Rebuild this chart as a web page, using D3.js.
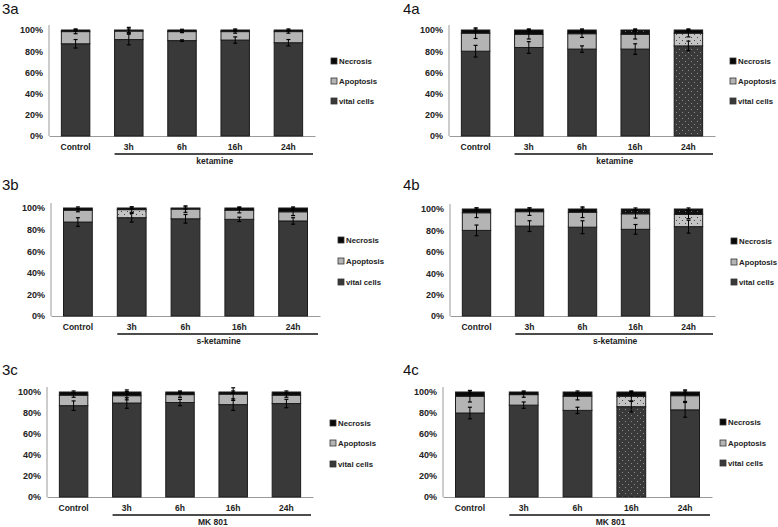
<!DOCTYPE html>
<html>
<head>
<meta charset="utf-8">
<script src="https://cdn.jsdelivr.net/npm/d3@7/dist/d3.min.js"></script>
<style>
  html, body { margin: 0; padding: 0; background: #fff; }
  svg { display: block; }
  text { font-family: "Liberation Sans", Arial, sans-serif; fill: #222; }
</style>
</head>
<body>
<div id="chart"></div>
<script>
// ---------- DATA ----------
const categories = ["Control", "3h", "6h", "16h", "24h"];
const panelIds = ["3a", "4a", "3b", "4b", "3c", "4c"];
const treatments = ["ketamine", "ketamine", "s-ketamine", "s-ketamine", "MK 801", "MK 801"];
const seriesNames = ["Necrosis", "Apoptosis", "vital cells"];
const yTicks = [0, 20, 40, 60, 80, 100];

// values in % (vital cells, apoptosis, necrosis) and error bars
const vital3a = [87, 91, 90, 90.5, 88];
const apoptosis3a = [11.5, 8, 8.5, 8, 10.5];
const necrosis3a = [1.5, 1, 1.5, 1.5, 1.5];
const vitalErr3a = [4, 5, 0.7, 3, 3];
const apoptosisErr3a = [2, 2, 1, 1.5, 1.5];
const necrosisErr3a = [1, 2.5, 0.7, 1, 1];

const vital4a = [80, 83.5, 82, 82, 85];
const apoptosis4a = [17, 12.5, 14.5, 14, 12];
const necrosis4a = [3, 4, 3.5, 4, 3];
const vitalErr4a = [5.5, 5.5, 3, 5, 4.5];
const apoptosisErr4a = [5, 4.5, 3.5, 4.5, 3.5];
const necrosisErr4a = [1, 1, 1, 1, 1];

const vital3b = [87, 91, 90, 89.5, 88];
const apoptosis3b = [11, 7.5, 9, 8.5, 8.5];
const necrosis3b = [2, 1.5, 1, 2, 3.5];
const vitalErr3b = [4, 4, 4, 2, 3];
const apoptosisErr3b = [1.5, 2.5, 3, 2.5, 3.5];
const necrosisErr3b = [1, 1, 1, 1, 1];

const vital4b = [80, 84, 83, 81, 83.5];
const apoptosis4b = [16.5, 13.5, 14, 14.5, 11.5];
const necrosis4b = [3.5, 2.5, 3, 4.5, 5];
const vitalErr4b = [5, 5, 6, 4.5, 6];
const apoptosisErr4b = [4.5, 3.5, 5, 4, 4];
const necrosisErr4b = [1, 1, 1, 1, 1];

const vital3c = [87, 89.5, 90, 88, 89];
const apoptosis3c = [10, 7, 7.5, 10, 8];
const necrosis3c = [3, 3.5, 2.5, 2, 3];
const vitalErr3c = [4.5, 5, 3, 5.5, 4];
const apoptosisErr3c = [2, 4, 2.5, 6, 2];
const necrosisErr3c = [1, 2, 1, 1, 1];

const vital4c = [80, 87.5, 82.5, 86, 83];
const apoptosis4c = [16, 10, 13.5, 10, 13.5];
const necrosis4c = [4, 2.5, 4, 4, 3.5];
const vitalErr4c = [5.5, 3, 3, 5, 7];
const apoptosisErr4c = [5.5, 2.5, 3.5, 4.5, 5.5];
const necrosisErr4c = [1, 1, 1, 1, 1];

// dotted (pattern) segments: 1 = dotted
const dottedVital = { "3a": [0,0,0,0,0], "4a": [0,0,0,0,1], "3b": [0,0,0,0,0], "4b": [0,0,0,0,0], "3c": [0,0,0,0,0], "4c": [0,0,0,1,0] };
const dottedApoptosis = { "3a": [0,0,0,0,0], "4a": [0,0,0,0,1], "3b": [0,1,0,0,0], "4b": [0,0,0,0,1], "3c": [0,0,0,0,0], "4c": [0,0,0,1,0] };
const dottedNecrosis = { "3a": [0,0,0,0,0], "4a": [0,0,0,1,0], "3b": [0,0,0,0,0], "4b": [0,0,0,1,1], "3c": [0,0,0,0,0], "4c": [0,0,0,0,0] };

const panelData = {
  "3a": { vital: vital3a, apo: apoptosis3a, nec: necrosis3a, vErr: vitalErr3a, aErr: apoptosisErr3a, nErr: necrosisErr3a },
  "4a": { vital: vital4a, apo: apoptosis4a, nec: necrosis4a, vErr: vitalErr4a, aErr: apoptosisErr4a, nErr: necrosisErr4a },
  "3b": { vital: vital3b, apo: apoptosis3b, nec: necrosis3b, vErr: vitalErr3b, aErr: apoptosisErr3b, nErr: necrosisErr3b },
  "4b": { vital: vital4b, apo: apoptosis4b, nec: necrosis4b, vErr: vitalErr4b, aErr: apoptosisErr4b, nErr: necrosisErr4b },
  "3c": { vital: vital3c, apo: apoptosis3c, nec: necrosis3c, vErr: vitalErr3c, aErr: apoptosisErr3c, nErr: necrosisErr3c },
  "4c": { vital: vital4c, apo: apoptosis4c, nec: necrosis4c, vErr: vitalErr4c, aErr: apoptosisErr4c, nErr: necrosisErr4c }
};

// ---------- LAYOUT ----------
const layout = {
  "3a": { titleX: 2,   titleY: 14,  x0: 49,  x1: 315, yTop: 30,  yBot: 136, legX: 331, legY: [61, 81, 101] },
  "4a": { titleX: 403, titleY: 14,  x0: 449, x1: 715, yTop: 30,  yBot: 136, legX: 730, legY: [61, 81, 101] },
  "3b": { titleX: 2,   titleY: 190, x0: 51,  x1: 320, yTop: 208, yBot: 316, legX: 338, legY: [240, 261, 282] },
  "4b": { titleX: 403, titleY: 190, x0: 450, x1: 715, yTop: 209, yBot: 316, legX: 731, legY: [241, 262, 282] },
  "3c": { titleX: 2,   titleY: 375, x0: 47,  x1: 313, yTop: 392, yBot: 497, legX: 330, legY: [423, 443, 464] },
  "4c": { titleX: 403, titleY: 375, x0: 443, x1: 712, yTop: 392, yBot: 497, legX: 720, legY: [422, 443, 463] }
};

const colVital = "#393939", colApo = "#b4b4b4", colNec = "#080808", colEdge = "#1c1c1c";

const W = 778, H = 527;
const svg = d3.select("#chart").append("svg").attr("width", W).attr("height", H);

// patterns
const defs = svg.append("defs");
function dotPattern(id, bg, dot) {
  const p = defs.append("pattern").attr("id", id).attr("patternUnits", "userSpaceOnUse")
    .attr("width", 6).attr("height", 6);
  p.append("rect").attr("width", 6).attr("height", 6).attr("fill", bg);
  p.append("rect").attr("x", 1).attr("y", 1).attr("width", 1).attr("height", 1).attr("fill", dot);
  p.append("rect").attr("x", 4).attr("y", 4).attr("width", 1).attr("height", 1).attr("fill", dot);
}
dotPattern("dotVital", colVital, "#8c8c8c");
dotPattern("dotApo", "#c4c4c4", "#4a4a4a");
dotPattern("dotNec", "#101010", "#6a6a6a");

panelIds.forEach((id, pi) => {
  const L = layout[id];
  const D = panelData[id];
  const g = svg.append("g");

  g.append("text").attr("x", L.titleX).attr("y", L.titleY)
    .style("font-size", "15px").style("fill", "#111").text(id);

  const x = d3.scaleBand().domain(categories).range([L.x0, L.x1])
    .paddingInner(0.465).paddingOuter(0.2325);
  const y = d3.scaleLinear().domain([0, 100]).range([L.yBot, L.yTop]);

  // y axis
  const yAxis = d3.axisLeft(y).tickValues(yTicks).tickSize(0).tickPadding(6)
    .tickFormat(d => d + "%");
  const ya = g.append("g").attr("transform", `translate(${L.x0},0)`).call(yAxis);
  ya.select(".domain").remove();
  ya.selectAll("text").style("font-size", "9px").style("font-weight", "bold")
    .style("font-family", "'Liberation Sans', Arial, sans-serif").attr("fill", "#222");
  g.append("line").attr("x1", L.x0).attr("x2", L.x0).attr("y1", L.yTop - 5).attr("y2", L.yBot)
    .attr("stroke", "#9a9a9a").attr("stroke-width", 1);

  // x axis
  const xAxis = d3.axisBottom(x).tickSize(0).tickPadding(8);
  const xa = g.append("g").attr("transform", `translate(0,${L.yBot})`).call(xAxis);
  xa.select(".domain").attr("stroke", "#9a9a9a");
  xa.selectAll("text").style("font-size", "8.5px").style("font-weight", "bold")
    .style("font-family", "'Liberation Sans', Arial, sans-serif").attr("fill", "#222");

  // treatment underline + label
  const ux0 = x(categories[1]);
  const uy = L.yBot + 18;
  g.append("line").attr("x1", ux0).attr("x2", L.x1 - 2).attr("y1", uy).attr("y2", uy)
    .attr("stroke", "#111").attr("stroke-width", 1.5);
  g.append("text").attr("x", (ux0 + L.x1) / 2).attr("y", uy + 10).attr("text-anchor", "middle")
    .style("font-size", "8.5px").style("font-weight", "bold").text(treatments[pi]);

  // stacked bars
  categories.forEach((c, i) => {
    const bx = x(c), bw = x.bandwidth();
    const v = D.vital[i], a = D.apo[i], n = D.nec[i];
    const segs = [
      { lo: 0, hi: v, fill: dottedVital[id][i] ? "url(#dotVital)" : colVital },
      { lo: v, hi: v + a, fill: dottedApoptosis[id][i] ? "url(#dotApo)" : colApo },
      { lo: v + a, hi: v + a + n, fill: dottedNecrosis[id][i] ? "url(#dotNec)" : colNec }
    ];
    segs.forEach(s => {
      g.append("rect").attr("x", bx).attr("width", bw)
        .attr("y", y(s.hi)).attr("height", y(s.lo) - y(s.hi))
        .attr("fill", s.fill).attr("stroke", colEdge).attr("stroke-width", 1);
    });
    // error bars
    const errs = [
      { c: v, e: D.vErr[i] },
      { c: v + a, e: D.aErr[i] },
      { c: v + a + n, e: D.nErr[i] }
    ];
    const cx = bx + bw / 2;
    errs.forEach(er => {
      const yHi = y(er.c + er.e), yLo = y(er.c - er.e);
      g.append("line").attr("x1", cx).attr("x2", cx).attr("y1", yHi).attr("y2", yLo)
        .attr("stroke", "#000").attr("stroke-width", 1);
      [yHi, yLo].forEach(yy => g.append("line").attr("x1", cx - 2).attr("x2", cx + 2)
        .attr("y1", yy).attr("y2", yy).attr("stroke", "#000").attr("stroke-width", 1.2));
    });
  });

  // legend
  const legFills = [colNec, colApo, colVital];
  seriesNames.forEach((s, k) => {
    g.append("rect").attr("x", L.legX).attr("y", L.legY[k] - 3).attr("width", 6).attr("height", 6)
      .attr("fill", legFills[k]).attr("stroke", "#333").attr("stroke-width", 0.8);
    g.append("text").attr("x", L.legX + 8).attr("y", L.legY[k] + 3)
      .style("font-size", "7.8px").style("font-weight", "bold").text(s);
  });
});
</script>
</body>
</html>
